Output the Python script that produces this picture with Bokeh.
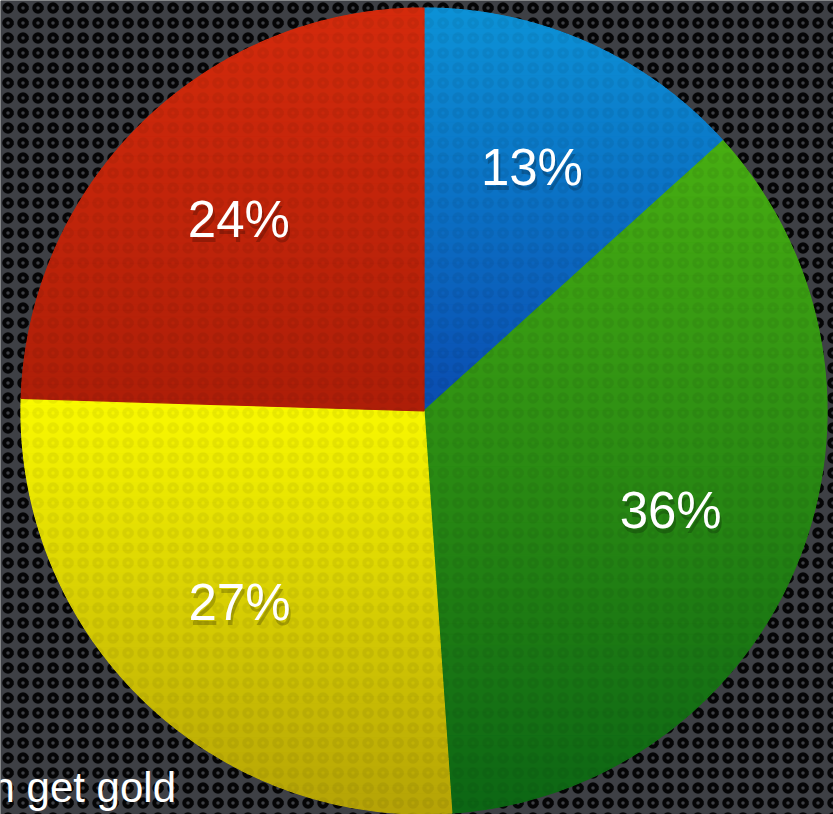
import numpy as np
from bokeh.plotting import figure
from bokeh.models import BoxAnnotation, ColumnDataSource
from bokeh.core.properties import value
from bokeh.embed import file_html
from bokeh.resources import INLINE

# ---- data ----
categories = ["Blue", "Green", "Yellow", "Red"]
shares = [13.3, 35.6, 26.6, 24.5]
labels = ["13%", "36%", "27%", "24%"]
top_colors = ["#0c92d6", "#48ae12", "#fafa00", "#d42a0c"]
bottom_colors = ["#0a4cb0", "#0b6614", "#b4a206", "#ae1e08"]
caption = "n get gold"

# ---- layout ----
W, H = 833, 814
cx, cy, R = 423.5, H - 410.5, 403.0
LABEL_R = 0.66

p = figure(width=W, height=H, x_range=(0, W), y_range=(0, H),
           output_backend="svg", toolbar_location=None, min_border=0)
p.axis.visible = False
p.grid.visible = False
p.outline_line_color = None
p.background_fill_color = "#3e4045"
p.border_fill_color = "#3e4045"

# perforated dark background
p.add_layout(BoxAnnotation(fill_color="#3e4045", fill_alpha=1.0, line_color=None,
                           hatch_pattern="ring", hatch_color="#050506",
                           hatch_scale=15, hatch_weight=4, hatch_alpha=1.0,
                           level="underlay"))


def hex2rgb(h):
    h = h.lstrip("#")
    return np.array([int(h[i:i + 2], 16) for i in (0, 2, 4)], dtype=float)


def rgb2hex(c):
    c = np.clip(np.round(c), 0, 255).astype(int)
    return "#%02x%02x%02x" % tuple(c)


def clip_band(pts, lo, hi):
    def clip(poly, keep, edge):
        out = []
        n = len(poly)
        for i in range(n):
            a, b = poly[i], poly[(i + 1) % n]
            ka, kb = keep(a), keep(b)
            if ka:
                out.append(a)
            if ka != kb:
                t = (edge - a[1]) / (b[1] - a[1])
                out.append((a[0] + t * (b[0] - a[0]), edge))
        return out
    poly = clip(pts, lambda q: q[1] >= lo, lo)
    if len(poly) < 3:
        return []
    poly = clip(poly, lambda q: q[1] <= hi, hi)
    return poly if len(poly) >= 3 else []


fr = np.array(shares) / np.sum(shares)
cum = np.concatenate([[0], np.cumsum(fr)])
# clockwise from 12 o'clock
theta_start = np.pi / 2 - 2 * np.pi * cum[:-1]
theta_end = np.pi / 2 - 2 * np.pi * cum[1:]

xs, ys, cols = [], [], []
NB = 60
for i in range(len(shares)):
    th = np.linspace(theta_start[i], theta_end[i], 200)
    pts = [(cx, cy)] + [(cx + R * np.cos(t), cy + R * np.sin(t)) for t in th]
    yv = [q[1] for q in pts]
    ymin, ymax = min(yv), max(yv)
    edges = np.linspace(ymin, ymax, NB + 1)
    c_top, c_bot = hex2rgb(top_colors[i]), hex2rgb(bottom_colors[i])
    for b in range(NB):
        poly = clip_band(pts, edges[b], edges[b + 1])
        if not poly:
            continue
        t = 1 - (b + 0.5) / NB  # 0 at top, 1 at bottom
        col = rgb2hex(c_top * (1 - t) + c_bot * t)
        xs.append([q[0] for q in poly])
        ys.append([q[1] for q in poly])
        cols.append(col)

p.patches(xs=xs, ys=ys, fill_color=cols, line_color=cols, line_width=1.2)

# subtle perforation on the pie
p.circle(x=[cx], y=[cy], radius=R, fill_alpha=0, line_color=None,
         hatch_pattern="ring", hatch_color="black", hatch_scale=15, hatch_weight=4,
         hatch_alpha=0.06)

# labels
mid = (theta_start + theta_end) / 2
lx = cx + LABEL_R * R * np.cos(mid)
ly = cy + LABEL_R * R * np.sin(mid)
src = ColumnDataSource(dict(x=lx, y=ly, text=labels))
p.text(x="x", y="y", text="text", source=src, text_color="black", text_alpha=0.22,
       text_font=value("Liberation Sans"), text_font_size="51px",
       text_align="center", text_baseline="middle", x_offset=2, y_offset=5)
p.text(x="x", y="y", text="text", source=src, text_color="white",
       text_font=value("Liberation Sans"), text_font_size="51px",
       text_align="center", text_baseline="middle")

# cut-off caption at bottom-left
p.text(x=[-9], y=[H - 787], text=[caption], text_color="white",
       text_font=value("Liberation Sans"), text_font_size="42px",
       text_align="left", text_baseline="middle")

open("out.html", "w").write(file_html(p, INLINE))
